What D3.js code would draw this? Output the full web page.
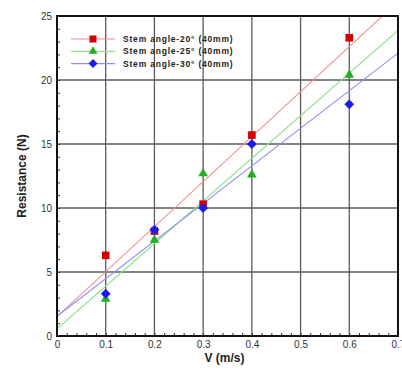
<!DOCTYPE html>
<html>
<head>
<meta charset="utf-8">
<script src="https://cdn.jsdelivr.net/npm/d3@7"></script>
<style>
  html, body { margin: 0; padding: 0; background: #fff; }
  svg { display: block; font-family: "Liberation Sans", Arial, sans-serif; }
</style>
</head>
<body>
<svg id="chart" width="402" height="370"></svg>
<script>
// Towing speed (m/s) and measured resistance (N) for three stem angles
const speeds = [0.1, 0.2, 0.3, 0.4, 0.6];
const stem20 = [6.3, 8.2, 10.3, 15.7, 23.3];
const stem25 = [2.9, 7.5, 12.7, 12.6, 20.4];
const stem30 = [3.3, 8.3, 10.0, 15.0, 18.1];
const seriesNames = ["Stem angle-20\u00b0 (40mm)", "Stem angle-25\u00b0 (40mm)", "Stem angle-30\u00b0 (40mm)"];
const xTicks = [0, 0.1, 0.2, 0.3, 0.4, 0.5, 0.6, 0.7];
const yTicks = [0, 5, 10, 15, 20, 25];

const series = [
  { name: seriesNames[0], values: stem20, mark: "#d40000", line: "#f09090", symbol: d3.symbolSquare, size: 58, rot: 0 },
  { name: seriesNames[1], values: stem25, mark: "#20b020", line: "#90e090", symbol: d3.symbolTriangle, size: 40, rot: 0 },
  { name: seriesNames[2], values: stem30, mark: "#1c1cf0", line: "#9090f0", symbol: d3.symbolSquare, size: 48, rot: 45 }
];

const svg = d3.select("#chart");
const m = { left: 57, right: 398, top: 16, bottom: 336 };

const x = d3.scaleLinear().domain([0, 0.7]).range([m.left, m.right]);
const y = d3.scaleLinear().domain([0, 25]).range([m.bottom, m.top]);

// Least-squares fit for each series
function fit(xs, ys) {
  const mx = d3.mean(xs), my = d3.mean(ys);
  let sxy = 0, sxx = 0;
  xs.forEach((v, i) => { sxy += (v - mx) * (ys[i] - my); sxx += (v - mx) * (v - mx); });
  const slope = sxy / sxx;
  return { slope, intercept: my - slope * mx };
}

svg.append("defs").append("clipPath").attr("id", "plot")
  .append("rect").attr("x", m.left).attr("y", m.top)
  .attr("width", m.right - m.left).attr("height", m.bottom - m.top);

// Grid
const grid = svg.append("g");
grid.selectAll("line.gx").data(xTicks.slice(1, -1)).join("line")
  .attr("x1", d => x(d)).attr("x2", d => x(d))
  .attr("y1", m.top).attr("y2", m.bottom)
  .attr("stroke", "#5a5a5a").attr("stroke-width", 1.3);
grid.selectAll("line.gy").data(yTicks.slice(1, -1)).join("line")
  .attr("x1", m.left).attr("x2", m.right)
  .attr("y1", d => y(d)).attr("y2", d => y(d))
  .attr("stroke", "#5a5a5a").attr("stroke-width", 1.3);

// Minor ticks (inward) on left and bottom
const xMinor = d3.range(0, 0.7001, 0.02);
const yMinor = d3.range(0, 25.001, 1);
svg.append("g").attr("transform", `translate(0,${m.bottom})`)
  .call(d3.axisTop(x).tickValues(xMinor).tickSize(3).tickFormat(""))
  .call(g => g.select(".domain").remove())
  .call(g => g.selectAll("line").attr("stroke", "#333"));
svg.append("g").attr("transform", `translate(${m.left},0)`)
  .call(d3.axisRight(y).tickValues(yMinor).tickSize(3).tickFormat(""))
  .call(g => g.select(".domain").remove())
  .call(g => g.selectAll("line").attr("stroke", "#333"));

// Tick labels
const xAxis = svg.append("g").attr("transform", `translate(0,${m.bottom})`)
  .call(d3.axisBottom(x).tickValues(xTicks).tickSize(0).tickPadding(5)
    .tickFormat(d => d === 0 ? "0" : d3.format(".1f")(d)));
xAxis.select(".domain").remove();
xAxis.selectAll("text").attr("font-size", 10).attr("fill", "#333")
  .attr("font-family", "'Liberation Sans', Arial, sans-serif");

const yAxis = svg.append("g").attr("transform", `translate(${m.left},0)`)
  .call(d3.axisLeft(y).tickValues(yTicks).tickSize(0).tickPadding(5));
yAxis.select(".domain").remove();
yAxis.selectAll("text").attr("font-size", 10).attr("fill", "#333")
  .attr("font-family", "'Liberation Sans', Arial, sans-serif");

// Fit lines
const plot = svg.append("g").attr("clip-path", "url(#plot)");
series.forEach(s => {
  const f = fit(speeds, s.values);
  plot.append("line")
    .attr("x1", x(0)).attr("y1", y(f.intercept))
    .attr("x2", x(0.7)).attr("y2", y(f.intercept + f.slope * 0.7))
    .attr("stroke", s.line).attr("stroke-width", 1.1);
});

// Markers
series.forEach(s => {
  svg.append("g").selectAll("path").data(s.values).join("path")
    .attr("transform", (d, i) => `translate(${x(speeds[i])},${y(d)}) rotate(${s.rot})`)
    .attr("d", d3.symbol().type(s.symbol).size(s.size))
    .attr("fill", s.mark);
});

// Frame
svg.append("rect").attr("x", m.left).attr("y", m.top)
  .attr("width", m.right - m.left).attr("height", m.bottom - m.top)
  .attr("fill", "none").attr("stroke", "#111").attr("stroke-width", 2);

// Legend
const legend = svg.append("g");
series.forEach((s, i) => {
  const ly = 39 + i * 12.3;
  legend.append("line").attr("x1", 71).attr("x2", 115).attr("y1", ly).attr("y2", ly)
    .attr("stroke", s.line).attr("stroke-width", 1.2);
  legend.append("path").attr("transform", `translate(93,${ly}) rotate(${s.rot})`)
    .attr("d", d3.symbol().type(s.symbol).size(s.size * 0.85)).attr("fill", s.mark);
  legend.append("text").attr("x", 123).attr("y", ly).attr("dy", "0.35em")
    .attr("font-size", 8.5).attr("font-weight", "bold").attr("fill", "#222")
    .attr("letter-spacing", 0.8)
    .text(s.name);
});

// Axis titles
svg.append("text").attr("x", (m.left + m.right) / 2 - 3).attr("y", 362)
  .attr("text-anchor", "middle").attr("font-size", 12).attr("font-weight", "bold").attr("fill", "#222")
  .text("V (m/s)");
svg.append("text").attr("transform", `translate(26,${(m.top + m.bottom) / 2}) rotate(-90)`)
  .attr("text-anchor", "middle").attr("font-size", 12).attr("font-weight", "bold").attr("fill", "#222")
  .text("Resistance (N)");
</script>
</body>
</html>
